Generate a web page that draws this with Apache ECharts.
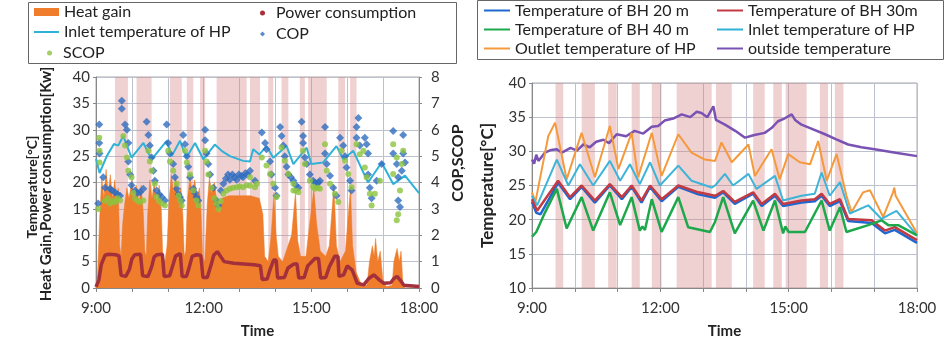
<!DOCTYPE html>
<html>
<head>
<meta charset="utf-8">
<script src="https://cdn.jsdelivr.net/npm/echarts@6/dist/echarts.min.js"></script>
<style>
  html, body { margin: 0; padding: 0; background: #fff; }
  #chart { width: 951px; height: 344px; }
</style>
</head>
<body>
<div id="chart"></div>
<script>
// time in hours
var hourTicks = [9, 12, 15, 18]

// heat pump running periods (pink bands)
var bandsLeft = [[9.53, 9.89], [10.13, 10.55], [11.06, 11.39], [11.53, 11.71], [11.9, 12.04],
  [12.36, 13.2], [13.29, 13.57], [13.8, 13.94], [14.17, 14.36], [14.68, 14.82],
  [14.91, 15.43], [15.75, 15.94], [16.08, 16.26]]
var bandsRight = [[9.55, 9.73], [10.16, 10.47], [10.78, 10.98], [11.33, 11.52], [11.8, 12.03],
  [12.38, 13.2], [13.3, 13.67], [14.17, 14.44], [14.64, 14.84], [14.93, 15.42],
  [15.73, 15.92], [16.08, 16.28]]

// left chart
var heatGain = [[9.0, 0], [9.04, 2], [9.1, 13], [9.16, 21], [9.22, 17], [9.28, 22.5], [9.34, 18],
  [9.4, 21.5], [9.46, 17], [9.52, 20.5], [9.58, 16], [9.62, 19], [9.66, 8], [9.7, 6], [9.74, 12],
  [9.8, 16], [9.86, 19], [9.92, 17], [10.0, 20.5], [10.06, 17], [10.12, 19.5], [10.2, 16],
  [10.26, 19.5], [10.32, 14], [10.36, 7], [10.4, 6], [10.44, 14], [10.5, 20.5], [10.56, 17],
  [10.62, 20], [10.7, 16], [10.76, 19.5], [10.82, 15], [10.86, 6], [10.92, 5], [10.98, 8],
  [11.04, 17], [11.1, 21.5], [11.16, 18], [11.22, 21], [11.3, 17], [11.36, 19], [11.42, 14],
  [11.46, 6], [11.5, 7], [11.55, 17], [11.62, 21], [11.68, 18], [11.75, 20.5], [11.82, 17],
  [11.88, 19], [11.93, 14], [11.97, 6], [12.03, 5], [12.1, 16], [12.16, 21], [12.22, 18],
  [12.3, 20], [12.38, 16], [12.44, 14], [12.5, 17], [12.7, 17.5], [13.0, 17.5], [13.3, 17.5],
  [13.55, 17], [13.65, 14], [13.7, 6], [13.8, 5], [13.88, 10], [13.96, 18.2], [14.02, 10],
  [14.08, 6], [14.2, 5], [14.3, 7], [14.45, 10], [14.56, 18.2], [14.62, 9], [14.7, 6],
  [14.85, 6], [14.95, 12], [15.07, 18.8], [15.15, 12], [15.25, 7], [15.4, 6], [15.5, 8],
  [15.63, 19.5], [15.7, 8], [15.8, 5], [15.95, 7], [16.09, 19], [16.15, 8], [16.25, 3],
  [16.4, 0.5], [16.55, 0.5], [16.62, 5], [16.7, 8], [16.75, 6], [16.79, 9.4], [16.85, 5],
  [16.92, 7], [17.0, 1], [17.1, 0.3], [17.25, 0.5], [17.3, 5], [17.35, 6.5], [17.39, 7.5],
  [17.45, 5], [17.5, 7], [17.55, 1], [17.6, 0], [18.0, 0]]

var powerUse = [[9.0, 0.2], [9.08, 1.5], [9.15, 4.5], [9.25, 6.2], [9.35, 6.4], [9.55, 6.3],
  [9.64, 6.1], [9.7, 2.4], [9.83, 2.2], [9.93, 3.5], [10.0, 5.5], [10.08, 6.3], [10.24, 6.4],
  [10.3, 2.3], [10.45, 2.2], [10.55, 4.0], [10.62, 5.9], [10.7, 6.3], [10.85, 6.4], [10.9, 2.2],
  [11.05, 2.3], [11.15, 4.5], [11.22, 6.1], [11.35, 6.5], [11.4, 2.2], [11.52, 2.2], [11.6, 4.0],
  [11.68, 6.0], [11.8, 6.3], [11.92, 6.2], [11.98, 2.0], [12.1, 2.0], [12.2, 4.2], [12.28, 6.2],
  [12.38, 6.9], [12.57, 5.0], [12.84, 4.7], [13.4, 4.4], [13.58, 4.2], [13.63, 1.6], [13.77, 1.7],
  [13.85, 3.5], [13.95, 5.3], [14.02, 5.3], [14.06, 1.9], [14.25, 2.0], [14.35, 3.8], [14.5, 4.5],
  [14.6, 4.6], [14.65, 1.9], [14.8, 2.0], [14.9, 4.2], [15.1, 5.6], [15.2, 5.6], [15.26, 1.9],
  [15.4, 2.0], [15.5, 4.0], [15.65, 6.0], [15.74, 6.0], [15.77, 2.2], [15.9, 2.5], [16.0, 4.2],
  [16.14, 3.4], [16.28, 0.9], [16.46, 0.6], [16.6, 1.8], [16.74, 2.5], [16.9, 1.5], [17.02, 0.9],
  [17.21, 1.0], [17.3, 1.8], [17.39, 2.2], [17.5, 1.3], [17.58, 0.5], [18.0, 0.3]]

var inletLeft = [[9.0, 24.5], [9.1, 21.8], [9.3, 25], [9.5, 27.3], [9.62, 27.0], [9.76, 28.8],
  [9.99, 24.7], [10.32, 27.5], [10.55, 24.4], [10.97, 27.9], [11.11, 25.0], [11.34, 27.9],
  [11.52, 24.7], [11.76, 27.5], [11.99, 24.4], [12.31, 27.2], [12.5, 26.0], [12.73, 25.0],
  [13.1, 24.1], [13.29, 24.0], [13.38, 26.3], [13.55, 25.3], [13.75, 26.9], [13.94, 24.7],
  [14.31, 26.9], [14.5, 23.5], [14.87, 26.6], [15.0, 23.5], [15.33, 23.8], [15.7, 26.9],
  [15.89, 24.4], [16.17, 26.0], [16.58, 20.0], [16.96, 23.8], [17.28, 19.7], [17.61, 21.3],
  [18.0, 18.0]]

var cop = [[9.09, 6.2], [9.09, 5.5], [9.1, 5.1], [9.06, 3.2], [9.2, 4.2], [9.25, 3.8], [9.39, 3.76],
  [9.53, 3.63], [9.67, 3.5], [9.45, 3.7], [9.6, 3.55], [9.72, 7.1], [9.72, 6.8], [9.81, 6.2],
  [9.86, 6.0], [9.9, 5.5], [9.9, 4.8], [9.95, 4.3], [9.99, 3.9], [10.09, 3.7], [10.23, 3.63],
  [10.32, 3.76], [10.16, 3.6], [10.41, 6.3], [10.46, 5.8], [10.5, 5.4], [10.55, 4.95], [10.6, 4.45],
  [10.64, 4.07], [10.69, 3.7], [10.76, 3.55], [10.83, 3.45], [10.92, 3.32], [10.97, 6.2], [11.01, 5.5],
  [11.06, 5.1], [11.15, 4.7], [11.2, 4.2], [11.25, 3.76], [11.3, 3.55], [11.34, 3.45], [11.39, 3.32],
  [11.43, 5.8], [11.48, 5.45], [11.53, 5.0], [11.57, 4.6], [11.62, 4.2], [11.71, 3.76], [11.76, 3.6],
  [11.8, 3.45], [11.85, 3.32], [12.04, 6.0], [12.04, 5.6], [12.08, 5.1], [12.13, 4.7], [12.18, 4.3],
  [12.27, 3.8], [12.36, 3.32], [12.41, 3.13], [12.48, 3.7], [12.55, 3.95], [12.62, 4.15], [12.68, 4.3],
  [12.73, 4.1], [12.8, 4.3], [12.86, 4.2], [12.92, 4.1], [12.98, 4.3], [13.05, 4.25], [13.1, 4.2],
  [13.16, 4.35], [13.22, 4.3], [13.29, 4.45], [13.43, 4.07], [13.62, 5.9], [13.71, 5.5], [13.75, 5.26],
  [13.85, 4.8], [13.89, 4.3], [13.99, 3.8], [14.03, 3.5], [14.13, 6.1], [14.17, 5.76], [14.22, 5.4],
  [14.26, 5.0], [14.31, 4.6], [14.36, 4.3], [14.43, 4.2], [14.5, 4.07], [14.57, 3.9], [14.64, 3.8],
  [14.73, 6.3], [14.77, 5.76], [14.77, 5.5], [14.82, 4.95], [14.87, 4.7], [14.96, 4.3], [15.05, 4.07],
  [15.1, 4.0], [15.15, 3.95], [15.2, 4.0], [15.24, 4.07], [15.38, 6.1], [15.38, 5.1], [15.43, 4.7],
  [15.52, 4.26], [15.61, 3.8], [15.7, 3.5], [15.8, 5.7], [15.89, 5.4], [15.94, 5.0], [15.98, 4.57],
  [16.08, 4.07], [16.12, 3.7], [16.31, 6.45], [16.26, 6.1], [16.26, 5.7], [16.35, 5.4], [16.49, 5.7],
  [16.54, 5.45], [16.58, 5.1], [16.58, 4.3], [16.63, 3.8], [16.68, 3.4], [16.82, 4.07], [16.96, 4.7],
  [17.28, 5.95], [17.28, 5.1], [17.38, 4.7], [17.42, 4.2], [17.42, 3.32], [17.47, 3.07], [17.56, 5.8],
  [17.56, 5.1], [17.61, 4.76], [17.52, 4.45]]

var scop = [[9.09, 5.7], [9.1, 5.2], [9.1, 4.76], [9.06, 3.0], [9.25, 3.3], [9.32, 3.4], [9.39, 3.2],
  [9.46, 3.3], [9.53, 3.26], [9.6, 3.4], [9.67, 3.32], [9.76, 5.76], [9.81, 5.4], [9.86, 4.95],
  [9.9, 4.45], [9.99, 4.2], [10.04, 3.6], [10.09, 3.38], [10.16, 3.3], [10.23, 3.26], [10.32, 3.32],
  [10.46, 5.2], [10.5, 4.8], [10.55, 4.45], [10.64, 3.95], [10.69, 3.45], [10.76, 3.3], [10.83, 3.2],
  [10.92, 3.13], [11.01, 5.2], [11.06, 4.8], [11.15, 4.45], [11.25, 3.95], [11.3, 3.5], [11.34, 3.32],
  [11.39, 3.13], [11.48, 5.2], [11.53, 4.76], [11.62, 4.3], [11.71, 3.7], [11.8, 3.32], [11.85, 3.13],
  [12.04, 5.2], [12.08, 4.8], [12.13, 4.3], [12.22, 3.8], [12.3, 3.4], [12.36, 3.2], [12.41, 3.0],
  [12.48, 3.3], [12.55, 3.57], [12.64, 3.7], [12.73, 3.76], [12.82, 3.8], [12.92, 3.82], [13.0, 3.85],
  [13.1, 3.82], [13.2, 3.9], [13.29, 3.88], [13.29, 4.2], [13.43, 3.82], [13.48, 3.95], [13.62, 4.95],
  [13.75, 4.64], [13.85, 4.32], [13.94, 3.95], [14.03, 3.45], [14.17, 5.33], [14.26, 4.82],
  [14.36, 4.32], [14.5, 3.95], [14.5, 3.7], [14.57, 3.7], [14.64, 3.63], [14.77, 5.2], [14.82, 4.7],
  [14.96, 4.07], [15.05, 3.85], [15.1, 3.76], [15.18, 3.8], [15.24, 3.76], [15.38, 5.45], [15.43, 4.45],
  [15.52, 3.95], [15.66, 3.57], [15.75, 3.26], [15.84, 5.2], [15.94, 4.82], [16.03, 4.32],
  [16.12, 3.82], [16.26, 5.45], [16.35, 5.07], [16.45, 5.2], [16.49, 4.57], [16.54, 4.2],
  [16.63, 3.57], [16.68, 3.13], [16.77, 3.57], [16.91, 4.07], [17.28, 5.45], [17.28, 4.32],
  [17.38, 4.95], [17.38, 2.57], [17.42, 2.8], [17.52, 4.7], [17.56, 5.2], [17.47, 3.7]]

// right chart
var bh20 = [[9.0, 22.6], [9.1, 21.0], [9.2, 20.8], [9.61, 25.4], [9.89, 23.0], [10.16, 24.8],
  [10.47, 22.5], [10.82, 25.0], [11.1, 23.0], [11.33, 24.8], [11.56, 22.5], [11.76, 24.8],
  [12.03, 22.7], [12.42, 24.8], [12.89, 23.7], [13.28, 23.2], [13.47, 24.0], [13.74, 22.3],
  [14.17, 23.8], [14.37, 22.0], [14.68, 23.5], [14.87, 22.0], [15.3, 22.5], [15.61, 22.7],
  [15.77, 23.5], [15.96, 22.0], [16.2, 22.7], [16.39, 19.8], [16.94, 19.5], [17.25, 18.0],
  [17.48, 18.5], [18.0, 16.6]]
var bh30 = [[9.0, 23.0], [9.12, 21.3], [9.61, 25.7], [9.89, 23.3], [10.16, 25.0], [10.47, 22.8],
  [10.82, 25.2], [11.1, 23.3], [11.33, 25.0], [11.56, 22.8], [11.76, 25.0], [12.03, 23.0],
  [12.42, 25.0], [12.89, 24.0], [13.28, 23.5], [13.47, 24.2], [13.74, 22.6], [14.17, 24.0],
  [14.37, 22.3], [14.68, 23.8], [14.87, 22.3], [15.3, 22.8], [15.61, 23.0], [15.77, 23.8],
  [15.96, 22.3], [16.2, 23.0], [16.39, 20.1], [16.94, 19.9], [17.25, 18.4], [17.48, 18.9],
  [18.0, 17.0]]
var bh40 = [[9.0, 17.5], [9.1, 18.2], [9.3, 21.0], [9.58, 24.5], [9.81, 18.7], [10.16, 23.3],
  [10.43, 18.4], [10.82, 24.0], [11.06, 19.2], [11.33, 23.3], [11.52, 18.4], [11.58, 19.0],
  [11.64, 18.5], [11.8, 23.0], [12.03, 18.2], [12.42, 23.3], [12.65, 18.9], [13.16, 18.2],
  [13.28, 19.7], [13.47, 23.3], [13.74, 18.0], [14.17, 22.8], [14.41, 18.4], [14.68, 22.8],
  [14.87, 18.0], [14.92, 19.0], [15.0, 18.2], [15.38, 18.2], [15.77, 22.8], [15.96, 18.4],
  [16.2, 21.8], [16.35, 18.2], [16.86, 19.2], [17.17, 19.9], [17.33, 19.2], [17.56, 19.2],
  [18.0, 17.7]]
var inletRight = [[9.0, 23.5], [9.12, 22.1], [9.58, 28.8], [9.85, 25.0], [10.12, 28.1],
  [10.43, 25.0], [10.82, 28.6], [11.06, 25.7], [11.29, 28.1], [11.52, 25.2], [11.76, 28.4],
  [11.99, 25.0], [12.42, 27.9], [12.73, 25.7], [13.2, 24.7], [13.28, 25.0], [13.51, 26.7],
  [13.7, 25.0], [14.06, 26.7], [14.25, 24.5], [14.68, 26.4], [14.87, 22.8], [15.3, 23.5],
  [15.61, 23.8], [15.77, 26.9], [15.96, 23.5], [16.2, 25.5], [16.43, 20.9], [16.86, 22.1],
  [17.17, 20.1], [17.52, 21.3], [18.0, 17.7]]
var outletRight = [[9.0, 24.0], [9.08, 22.6], [9.23, 27.4], [9.38, 32.2], [9.54, 34.2],
  [9.81, 25.9], [10.16, 32.7], [10.47, 26.2], [10.82, 33.7], [11.02, 27.4], [11.33, 32.7],
  [11.48, 26.2], [11.8, 32.7], [12.03, 26.4], [12.42, 32.5], [12.73, 29.8], [13.04, 28.8],
  [13.28, 28.6], [13.43, 31.3], [13.67, 28.4], [14.06, 31.0], [14.21, 26.4], [14.6, 30.3],
  [14.79, 25.9], [14.99, 29.6], [15.26, 28.4], [15.5, 28.1], [15.69, 31.5], [15.89, 25.7],
  [16.12, 29.6], [16.35, 23.5], [16.47, 21.1], [16.74, 24.0], [16.9, 24.3], [17.21, 20.4],
  [17.44, 24.0], [17.47, 24.7], [17.5, 23.5], [18.0, 18.0]]
var outside = [[9.0, 28.8], [9.05, 28.2], [9.1, 29.5], [9.15, 28.6], [9.3, 29.8], [9.45, 30.2],
  [9.58, 30.3], [9.7, 29.8], [9.9, 30.5], [10.05, 30.1], [10.2, 31.0], [10.35, 30.6], [10.5, 31.4],
  [10.67, 31.7], [10.8, 31.2], [10.98, 32.5], [11.2, 32.2], [11.4, 33.0], [11.6, 32.6],
  [11.8, 33.6], [11.95, 33.7], [12.1, 34.5], [12.3, 34.8], [12.5, 35.4], [12.7, 35.0],
  [12.85, 35.8], [12.96, 35.6], [13.1, 35.0], [13.24, 36.6], [13.3, 34.6], [13.51, 33.9],
  [13.75, 33.0], [13.98, 32.0], [14.2, 32.4], [14.44, 32.7], [14.6, 33.4], [14.75, 34.4],
  [14.9, 34.8], [15.07, 35.4], [15.15, 34.6], [15.3, 33.9], [15.5, 33.4], [15.85, 32.5],
  [16.1, 31.8], [16.39, 31.0], [16.7, 30.6], [17.01, 30.3], [17.5, 29.8], [18.0, 29.3]]

var font = 'Lato'
var gridColor = '#bcc2cd'
var pink = 'rgba(214,128,128,0.36)'

function hourLabel(v) {
  return hourTicks.indexOf(v) >= 0 ? v + ':00' : ''
}

function toBands(list) {
  return list.map(function (b) {
    return [{ xAxis: b[0] }, { xAxis: b[1] }]
  })
}

function timeAxis(gridIndex) {
  return {
    type: 'value',
    gridIndex: gridIndex,
    min: 9,
    max: 18,
    interval: 1,
    name: 'Time',
    nameLocation: 'middle',
    nameGap: 36,
    nameTextStyle: { fontFamily: font, fontWeight: 'bold', fontSize: 15, color: '#222' },
    axisLine: { lineStyle: { color: '#888' } },
    axisTick: { length: 4, lineStyle: { color: '#888' } },
    axisLabel: { formatter: hourLabel, fontFamily: font, fontSize: 15, color: '#333', margin: 13 },
    splitLine: { show: true, lineStyle: { color: gridColor } }
  }
}

function lineSeries(name, data, color, width, xi, yi) {
  return {
    name: name,
    type: 'line',
    xAxisIndex: xi,
    yAxisIndex: yi,
    data: data,
    symbol: 'none',
    z: 4,
    color: color,
    lineStyle: { color: color, width: width }
  }
}

function lineItems(names) {
  return names.map(function (n) {
    return { name: n, icon: 'rect' }
  })
}

// rotated axis title
function sideText(text, x, y, size) {
  return {
    type: 'text', x: x, y: y, rotation: Math.PI / 2,
    style: { text: text, fontFamily: font, fontWeight: 'bold', fontSize: size, fill: '#222', align: 'center', verticalAlign: 'middle' }
  }
}

var legendText = { fontFamily: font, fontSize: 16, color: '#222' }

var chart = echarts.init(document.getElementById('chart'))
chart.setOption({
  animation: false,
  graphic: [
    { type: 'rect', shape: { x: 28.5, y: 2.5, width: 428, height: 61 }, style: { fill: 'none', stroke: '#666', lineWidth: 1 } },
    { type: 'rect', shape: { x: 477.5, y: 0.5, width: 466, height: 59 }, style: { fill: 'none', stroke: '#666', lineWidth: 1 } },
    sideText('Temperature[°C]', 32, 187, 14),
    sideText('Heat Gain,Power consumption[Kw]', 46, 184, 15),
    sideText('COP,SCOP', 458, 163, 16)
  ],
  legend: [
    { data: [{ name: 'Heat gain', icon: 'rect' }], left: 34, top: 4, itemWidth: 25, itemHeight: 8, textStyle: legendText, padding: 0 },
    { data: lineItems(['Inlet temperature of HP']), left: 34, top: 24, itemWidth: 25, itemHeight: 2, textStyle: legendText, padding: 0 },
    { data: [{ name: 'SCOP', icon: 'circle' }], left: 47, top: 45, itemWidth: 5, itemHeight: 5, textStyle: Object.assign({ padding: [0, 0, 0, 6] }, legendText), padding: 0 },
    {
      data: [{ name: 'Power consumption', icon: 'circle' }, { name: 'COP', icon: 'diamond' }],
      orient: 'vertical', left: 260, top: 5, itemWidth: 5, itemHeight: 5, itemGap: 5,
      textStyle: Object.assign({ padding: [0, 0, 0, 6], lineHeight: 16 }, legendText), padding: 0
    },
    {
      data: lineItems(['Temperature of BH 20 m', 'Temperature of BH 40 m', 'Outlet temperature of HP']),
      orient: 'vertical', left: 484, top: 2, itemWidth: 26, itemHeight: 2, itemGap: 2,
      textStyle: Object.assign({ lineHeight: 17 }, legendText), padding: 0
    },
    {
      data: lineItems(['Temperature of BH 30m', 'Inlet temperature of HP', 'outside temperature']),
      orient: 'vertical', left: 717, top: 2, itemWidth: 26, itemHeight: 2, itemGap: 2,
      textStyle: Object.assign({ lineHeight: 17 }, legendText), padding: 0
    }
  ],
  grid: [
    { left: 96, top: 77, width: 323, height: 213, show: true, borderColor: '#aaa', borderWidth: 1 },
    { left: 532, top: 83, width: 385, height: 207, show: true, borderColor: '#aaa', borderWidth: 1 }
  ],
  xAxis: [timeAxis(0), timeAxis(1)],
  yAxis: [
    {
      type: 'value', gridIndex: 0, min: 0, max: 40, interval: 5,
      axisLine: { show: true, lineStyle: { color: '#888' } },
      axisTick: { show: true, length: 3, lineStyle: { color: '#888' } },
      axisLabel: { fontFamily: font, fontSize: 15, color: '#333', margin: 6 },
      splitLine: { lineStyle: { color: gridColor } }
    },
    {
      type: 'value', gridIndex: 0, min: 0, max: 8, interval: 1, position: 'right',
      axisLine: { show: true, lineStyle: { color: '#888' } },
      axisTick: { show: true, length: 3, lineStyle: { color: '#888' } },
      axisLabel: { fontFamily: font, fontSize: 15, color: '#333', margin: 12 },
      splitLine: { show: false }
    },
    {
      type: 'value', gridIndex: 1, min: 10, max: 40, interval: 5,
      name: 'Temperature[°C]', nameLocation: 'middle', nameRotate: 90, nameGap: 36,
      nameTextStyle: { fontFamily: font, fontWeight: 'bold', fontSize: 17, color: '#222' },
      axisLine: { show: true, lineStyle: { color: '#888' } },
      axisTick: { show: true, length: 3, lineStyle: { color: '#888' } },
      axisLabel: { fontFamily: font, fontSize: 15, color: '#333', margin: 6 },
      splitLine: { lineStyle: { color: gridColor } }
    }
  ],
  series: [
    {
      name: 'Heat gain', type: 'line', xAxisIndex: 0, yAxisIndex: 0, data: heatGain,
      symbol: 'none', z: 1, color: '#ef7d2c',
      lineStyle: { color: '#ef7d2c', width: 0.5 },
      areaStyle: { color: '#ef7d2c', opacity: 1 }
    },
    {
      name: 'bandsLeft', type: 'line', xAxisIndex: 0, yAxisIndex: 0, data: [], z: 2,
      markArea: { silent: true, itemStyle: { color: pink }, data: toBands(bandsLeft) }
    },
    Object.assign(lineSeries('Power consumption', powerUse, '#a4303c', 3.5, 0, 0), { z: 4 }),
    lineSeries('Inlet temperature of HP', inletLeft, '#2fb2d6', 2, 0, 0),
    {
      name: 'COP', type: 'scatter', xAxisIndex: 0, yAxisIndex: 1, data: cop,
      symbol: 'diamond', symbolSize: 8, z: 5, color: '#2e6dbf'
    },
    {
      name: 'SCOP', type: 'scatter', xAxisIndex: 0, yAxisIndex: 1, data: scop,
      symbol: 'circle', symbolSize: 6, z: 6, color: '#8cc43f'
    },
    {
      name: 'bandsRight', type: 'line', xAxisIndex: 1, yAxisIndex: 2, data: [], z: 1,
      markArea: { silent: true, itemStyle: { color: pink }, data: toBands(bandsRight) }
    },
    lineSeries('outside temperature', outside, '#7a52b3', 2.5, 1, 2),
    lineSeries('Outlet temperature of HP', outletRight, '#f59a3c', 2, 1, 2),
    lineSeries('Inlet temperature of HP', inletRight, '#3db4d8', 2, 1, 2),
    lineSeries('Temperature of BH 20 m', bh20, '#1f68d0', 2.5, 1, 2),
    lineSeries('Temperature of BH 30m', bh30, '#c23a44', 2.5, 1, 2),
    lineSeries('Temperature of BH 40 m', bh40, '#1ea84c', 2.5, 1, 2)
  ]
})
</script>
</body>
</html>
